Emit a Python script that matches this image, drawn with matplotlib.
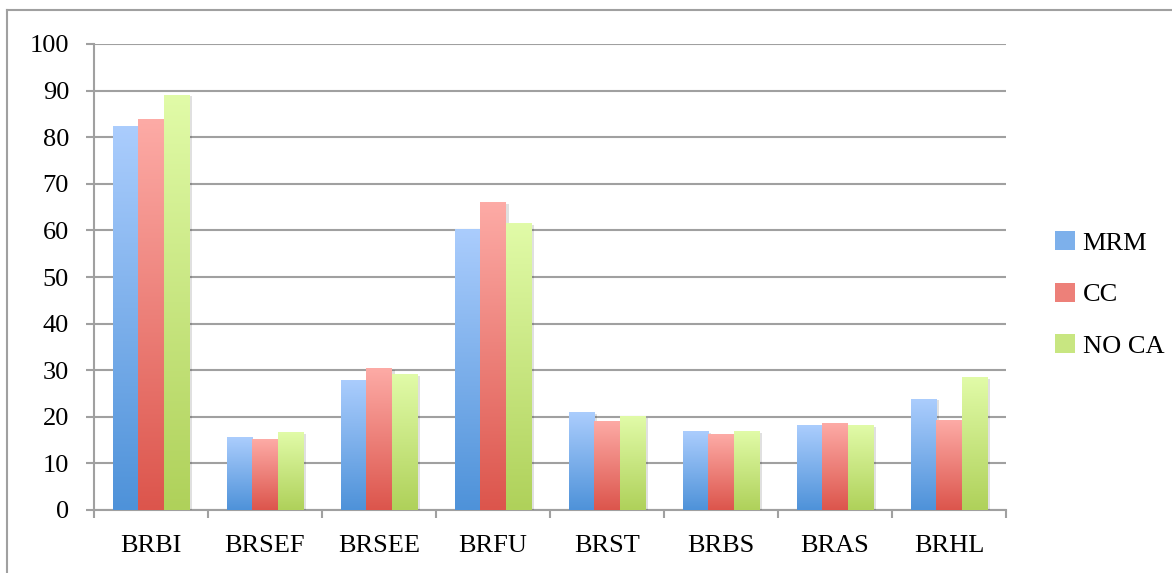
import numpy as np
import matplotlib
matplotlib.use('Agg')
import matplotlib.pyplot as plt
import matplotlib.patheffects as pe
from matplotlib.colors import LinearSegmentedColormap, to_rgb
from matplotlib.lines import Line2D
from matplotlib.patches import Patch

categories = ['BRBI', 'BRSEF', 'BRSEE', 'BRFU', 'BRST', 'BRBS', 'BRAS', 'BRHL']
series_names = ['MRM', 'CC', 'NO CA']
mrm = [82.3, 15.6, 27.9, 60.4, 21.0, 16.9, 18.2, 23.8]
cc = [83.8, 15.2, 30.4, 66.0, 19.1, 16.3, 18.6, 19.3]
no_ca = [89.1, 16.7, 29.1, 61.5, 20.1, 16.9, 18.2, 28.5]

# (top colour, bottom colour) for the vertical gradients
gradients = [('#abcdfd', '#4e92d9'), ('#fdaba6', '#dc554c'), ('#e1fba8', '#afd15a')]

plt.rcParams['font.family'] = ['Liberation Serif', 'DejaVu Serif']
plt.rcParams['font.size'] = 19

fig = plt.figure(figsize=(11.72, 5.73), dpi=100)
ax = fig.add_axes([94 / 1172, 1 - 510 / 573, 912 / 1172, 466 / 573])

x = np.arange(len(categories))
w = 0.225
grid_col = '#a0a0a0'

for k, vals in enumerate([mrm, cc, no_ca]):
    bars = ax.bar(x + (k - 1) * w, vals, width=w, color=gradients[k][1], zorder=3,
                  path_effects=[pe.SimplePatchShadow(offset=(2, -1), shadow_rgbFace='#000000', alpha=0.12),
                                pe.Normal()])
    cmap = LinearSegmentedColormap.from_list('g%d' % k, [gradients[k][1], gradients[k][0]])
    grad = np.linspace(0, 1, 256).reshape(-1, 1)
    for b in bars:
        x0, y0 = b.get_x(), b.get_y()
        im = ax.imshow(grad, cmap=cmap, aspect='auto', origin='lower',
                       extent=(x0, x0 + b.get_width(), y0, y0 + b.get_height()), zorder=4)
        im.set_clip_path(b)

ax.set_xlim(-0.5, len(categories) - 0.5)
ax.set_ylim(0, 100)
ax.set_yticks(range(0, 101, 10))
ax.set_xticks(x)
ax.set_xticklabels(categories)
ax.set_xticks(np.arange(-0.5, len(categories)), minor=True)
ax.yaxis.grid(True, color=grid_col, linewidth=1.5, zorder=1)
ax.set_axisbelow(True)

for s in ['top', 'right']:
    ax.spines[s].set_visible(False)
for s in ['left', 'bottom']:
    ax.spines[s].set_color(grid_col)
    ax.spines[s].set_linewidth(1.5)

ax.tick_params(axis='y', direction='out', length=6, width=1.5, color=grid_col, pad=12)
ax.tick_params(axis='x', which='major', length=0, pad=18)
ax.tick_params(axis='x', which='minor', direction='out', length=6, width=1.5, color=grid_col)

# legend swatches: mix of the two gradient ends
handles = []
for top, bot in gradients:
    mid = tuple(0.5 * a + 0.5 * b for a, b in zip(to_rgb(top), to_rgb(bot)))
    handles.append(Patch(facecolor=mid, edgecolor='none'))
leg = fig.legend(handles, series_names, loc='upper left', bbox_to_anchor=(1055 / 1172, 1 - 231 / 573),
                 frameon=False, handlelength=0.75, handleheight=0.75, handletextpad=0.3,
                 labelspacing=1.05, borderpad=0, borderaxespad=0, fontsize=19)

# outer chart frame
fig.add_artist(Line2D([7 / 1172, 1], [1 - 10 / 573, 1 - 10 / 573], color=grid_col, linewidth=1.5))
fig.add_artist(Line2D([7 / 1172, 7 / 1172], [0, 1 - 10 / 573], color=grid_col, linewidth=1.5))

fig.savefig('out.png', dpi=100)
